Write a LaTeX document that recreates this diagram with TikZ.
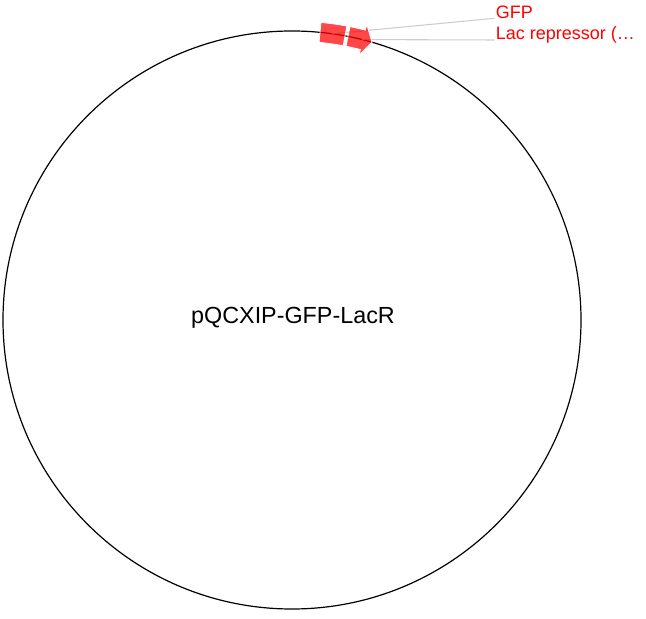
\documentclass[tikz,border=0pt]{standalone}
\usepackage{fontspec}
\setmainfont{Liberation Sans}
\usetikzlibrary{calc}

\definecolor{featred}{RGB}{255,0,0}
\definecolor{leadgray}{RGB}{204,204,204}

\begin{document}
\begin{tikzpicture}[
    x=0.75pt, y=0.75pt,
    backbone/.style={draw=black, line width=0.9pt},
    feature/.style={fill=featred, fill opacity=0.72, draw=white, line width=0.6pt},
    leader/.style={draw=leadgray, line width=0.8pt},
    flabel/.style={text=featred, font=\fontsize{13.5}{16}\selectfont, anchor=base west, inner sep=0pt},
    title/.style={font=\fontsize{17.5}{21}\selectfont, anchor=base, inner sep=0pt}
]
    \useasboundingbox (0,0) rectangle (646,618);

    % Backbone
    \coordinate (O) at (292,298);
    \draw[backbone] (O) circle (289);
    \node[title] (plasmid) at (293,294.5) {pQCXIP-GFP-LacR};

    % Labels
    \node[flabel] (gfpl) at (495.5,599.7) {GFP};
    \node[flabel] (lacl) at (495.5,578) {Lac repressor (\dots};

    % Leader lines
    \coordinate (gfpmid) at ($(O)+(82:289)$);
    \coordinate (lacmid) at ($(O)+(76:289)$);
    \draw[leader] (gfpmid) -- ($(gfpl.base west)+(-1,0)$);
    \draw[leader] (lacmid) -- ($(lacl.base west)+(-1,0)$);

    % Features
    \path[feature] ($(O)+(84.44:299)$) arc[start angle=84.44, end angle=79.43, radius=299]
        -- ($(O)+(79.43:279)$) arc[start angle=79.43, end angle=84.44, radius=279] -- cycle;
    \path[feature] ($(O)+(78.83:299)$) arc[start angle=78.83, end angle=75.8, radius=299]
        -- ($(O)+(75.8:305)$) -- ($(O)+(73.93:289)$) -- ($(O)+(75.8:273)$)
        -- ($(O)+(75.8:279)$) arc[start angle=75.8, end angle=78.83, radius=279] -- cycle;

\end{tikzpicture}
\end{document}
